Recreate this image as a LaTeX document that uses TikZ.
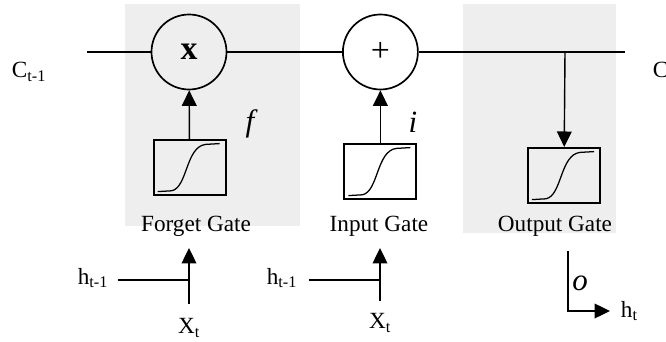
\documentclass[tikz,border=0pt]{standalone}
\usepackage{fontspec}
\setmainfont{Liberation Serif}
\usetikzlibrary{arrows.meta, positioning}

\begin{document}
\begin{tikzpicture}[
    font=\fontsize{16.5}{19}\selectfont,
    op/.style={draw, circle, line width=1.2pt, minimum size=1.875cm, inner sep=0pt,
        font=\fontsize{24}{26}\selectfont},
    sig/.style={draw, line width=1.5pt, minimum width=1.8cm, minimum height=1.38cm},
    arr/.style={line width=1pt, -{Triangle[width=10.5pt, length=11pt]}},
    gatevar/.style={font=\fontsize{22}{24}\selectfont\itshape}
]
    \useasboundingbox (0, 0) rectangle (16.65, -8.55);
    % gray gate areas
    \fill[gray!13] (3.125, -0.1) rectangle (7.5, -5.65);
    \fill[gray!13] (11.575, -0.1) rectangle (15.4, -5.825);

    % cell state line
    \coordinate (cin) at (2.175, -1.3);
    \coordinate (cout) at (15.625, -1.3);
    \coordinate (tap) at (14.125, -1.3);
    \node[op] (mult) at (4.725, -1.3) {\textbf{x}};
    \node[op] (add) at (9.51, -1.3) {+};
    \draw[line width=1.5pt] (cin) -- (mult) -- (add) -- (cout);
    \node at (0.725, -1.8) {C\textsubscript{t-1}};
    \node[anchor=west] at (16.2, -1.8) {C\textsubscript{t}};

    % sigmoid boxes
    \node[sig] (fbox) at (4.74, -4.19) {};
    \node[sig] (ibox) at (9.51, -4.29) {};
    \node[sig] (obox) at (14.1, -4.39) {};
    \foreach \b in {fbox, ibox, obox}
        \draw[line width=0.9pt, shift={(\b.center)}] (-0.8, -0.6) -- (-0.45, -0.58)
            .. controls (-0.05, -0.5) and (-0.1, 0.52) .. (0.4, 0.58) -- (0.75, 0.6);

    \draw[arr] (fbox) -- (mult);
    \draw[arr] (ibox) -- (add);
    \draw[arr] (tap) -- (obox);
    \node[gatevar] at (6.25, -3.1) {f};
    \node[gatevar] at (10.325, -3.05) {i};

    \node (fgate) at (4.9, -5.65) {Forget Gate};
    \node (igate) at (9.475, -5.65) {Input Gate};
    \node (ogate) at (13.875, -5.65) {Output Gate};

    % forget gate inputs
    \coordinate (fx) at (4.725, -7.6);
    \coordinate (fj) at (4.725, -7.0);
    \coordinate (fh) at (2.95, -7.0);
    \coordinate (ftip) at (4.725, -6.2);
    \draw[line width=1pt] (fh) -- (fj);
    \draw[arr] (fx) -- (ftip);
    \node at (2.325, -6.95) {h\textsubscript{t-1}};
    \node at (4.725, -8.2) {X\textsubscript{t}};

    % input gate inputs
    \coordinate (ix) at (9.5, -7.525);
    \coordinate (ij) at (9.5, -7.0);
    \coordinate (ih) at (7.725, -7.0);
    \coordinate (itip) at (9.5, -6.2);
    \draw[line width=1pt] (ih) -- (ij);
    \draw[arr] (ix) -- (itip);
    \node at (7.05, -6.95) {h\textsubscript{t-1}};
    \node at (9.5, -8.075) {X\textsubscript{t}};

    % output
    \coordinate (otop) at (14.2, -6.275);
    \coordinate (ocorner) at (14.2, -7.775);
    \coordinate (otip) at (15.25, -7.775);
    \draw[arr] (otop) -- (ocorner) -- (otip);
    \node[gatevar] at (14.5, -7.075) {o};
    \node[anchor=west] at (15.4, -7.775) {h\textsubscript{t}};
\end{tikzpicture}
\end{document}
